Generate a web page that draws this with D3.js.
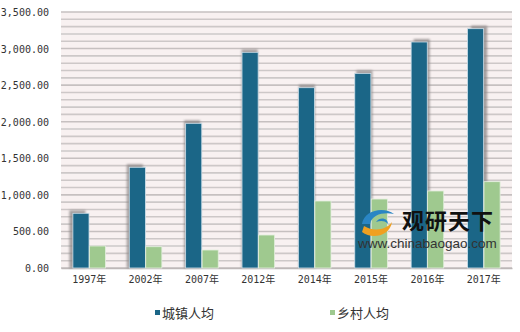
<!DOCTYPE html>
<html><head><meta charset="utf-8">
<script src="https://cdn.jsdelivr.net/npm/d3@7"></script>
<style>
html,body{margin:0;padding:0;background:#fff;}
svg{display:block;}
</style></head>
<body>
<svg id="c" width="520" height="332"></svg>
<script>
const categories = ["1997年","2002年","2007年","2012年","2014年","2015年","2016年","2017年"];
const seriesNames = ["城镇人均","乡村人均"];
const urban = [748, 1377, 1978, 2949, 2465, 2661, 3090, 3272];
const rural = [301, 291, 246, 451, 916, 943, 1053, 1180];
const yTicks = [0, 500, 1000, 1500, 2000, 2500, 3000, 3500];
const colors = ["#1b6687", "#9fc98f"];

const svg = d3.select("#c");
const m = {l: 61, r: 8, t: 12, b: 64};
const W = 520, H = 332;
const x0 = d3.scaleBand().domain(categories).range([m.l, W - m.r]).paddingInner(0.41).paddingOuter(0.205);
const x1 = d3.scaleBand().domain(seriesNames).range([0, x0.bandwidth()]).padding(0.02);
const y = d3.scaleLinear().domain([0, 3500]).range([H - m.b, m.t]);

const defs = svg.append("defs");
const f = defs.append("filter").attr("id","sh").attr("x","-50%").attr("y","-50%").attr("width","200%").attr("height","200%");
f.append("feGaussianBlur").attr("stdDeviation", 1.2);

// plot background
svg.append("rect").attr("x", m.l).attr("y", m.t).attr("width", W - m.r - m.l).attr("height", H - m.b - m.t).attr("fill", "#f8f1f1");

// grid lines every 100
const gridVals = d3.range(0, 3501, 100);
svg.append("g").selectAll("line").data(gridVals).join("line")
  .attr("x1", m.l).attr("x2", W - m.r)
  .attr("y1", d => y(d)).attr("y2", d => y(d))
  .attr("stroke", d => d % 500 === 0 ? "#c6c0c0" : "#cdc8c8")
  .attr("stroke-width", 1.6);

// y axis labels
const yAxis = d3.axisLeft(y).tickValues(yTicks).tickSize(0).tickPadding(0)
  .tickFormat(d => d3.format(",.2f")(d));
const ga = svg.append("g").attr("transform", `translate(${m.l - 12},0)`).call(yAxis);
ga.select(".domain").remove();
ga.selectAll("text").attr("font-family", "DejaVu Sans Mono, monospace").attr("font-size", 10).attr("fill", "#333").attr("dy","0.35em");

// x axis
const xAxis = d3.axisBottom(x0).tickSize(0).tickPadding(8);
const gx = svg.append("g").attr("transform", `translate(0,${y(0)})`).call(xAxis);
gx.select(".domain").attr("stroke", "#bdb7b7").attr("stroke-width", 1.5);
gx.selectAll("text").attr("font-family", "DejaVu Sans Mono, 'Noto Sans CJK SC', monospace").attr("font-size", 10).attr("fill", "#333");

const plotCenter = (m.l + W - m.r) / 2;
const data = categories.map((c, i) => ({c, vals: [urban[i], rural[i]]}));

// shadows for urban bars
svg.append("g").selectAll("rect").data(data).join("rect")
  .attr("x", d => x0(d.c) + x1(seriesNames[0]) + (x0(d.c) + x0.bandwidth()/2 - plotCenter) * 0.018)
  .attr("y", d => y(d.vals[0]) - 3)
  .attr("width", x1.bandwidth())
  .attr("height", d => y(0) - y(d.vals[0]) + 3)
  .attr("fill", "#8a8484").attr("opacity", 0.75).attr("filter", "url(#sh)");

// bars
const g = svg.append("g").selectAll("g").data(data).join("g")
  .attr("transform", d => `translate(${x0(d.c)},0)`);
g.selectAll("rect").data(d => d.vals.map((v, k) => ({k, v}))).join("rect")
  .attr("x", d => x1(seriesNames[d.k]))
  .attr("y", d => y(d.v))
  .attr("width", x1.bandwidth())
  .attr("height", d => y(0) - y(d.v))
  .attr("fill", d => colors[d.k])
  .attr("stroke", d => d.k === 0 ? "#cfe0ea" : "#e4efdf").attr("stroke-width", 0.8);

// watermark
const wm = svg.append("g");
wm.append("path").attr("d", "M362,224 C364,210 384,206 394,214 C384,212 372,214 370,224 Z").attr("fill", "#2a86c4");
wm.append("path").attr("d", "M364,226 C374,232 386,230 392,222 C390,236 372,240 362,232 Z").attr("fill", "#f0a020");
wm.append("path").attr("d", "M376,222 C380,216 388,218 388,224 C384,220 380,221 376,222 Z").attr("fill", "#2a86c4");
wm.append("text").attr("x", 402).attr("y", 229).text("观研天下")
  .attr("font-family", "'Noto Sans CJK SC', sans-serif").attr("font-weight", 700).attr("font-size", 22).attr("fill", "#111").attr("letter-spacing", 1);
wm.append("text").attr("x", 358).attr("y", 248).text("www.chinabaogao.com")
  .attr("font-family", "Arial, 'Liberation Sans', sans-serif").attr("font-size", 13.5).attr("fill", "#333");

// legend
const legX = [155, 330];
const lg = svg.append("g").selectAll("g").data(seriesNames).join("g")
  .attr("transform", (d, i) => `translate(${legX[i]},313)`);
lg.append("rect").attr("x", 0).attr("y", -3).attr("width", 5).attr("height", 5).attr("fill", (d, i) => colors[i]);
lg.append("text").attr("x", 7).attr("y", 0).attr("dy", "0.38em").text(d => d)
  .attr("font-family", "'Noto Sans CJK SC', sans-serif").attr("font-size", 13).attr("fill", "#333");
</script>
</body></html>
